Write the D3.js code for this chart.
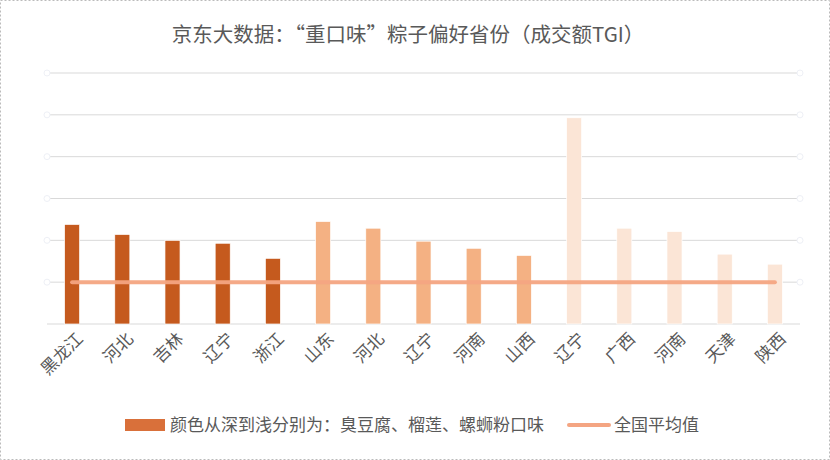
<!DOCTYPE html>
<html><head><meta charset="utf-8">
<script src="https://cdn.jsdelivr.net/npm/d3@7"></script>
<style>body{margin:0;background:#fff;font-family:"Noto Sans CJK SC",sans-serif}</style>
</head><body><svg id="c" width="830" height="460"></svg>
<script>
const categories=["黑龙江","河北","吉林","辽宁","浙江","山东","河北","辽宁","河南","山西","辽宁","广西","河南","天津","陕西"];
const values=[238,214,200,193,157,245,229,198,181,164,493,229,221,167,143];
const groups=[0,0,0,0,0,1,1,1,1,1,2,2,2,2,2];
const average=[100,100,100,100,100,100,100,100,100,100,100,100,100,100,100];
const ticks=[0,100,200,300,400,500,600];
const colors=["#C55A1E","#F4B183","#FBE5D6"];
const svg=d3.select("#c");
svg.append("rect").attr("x",0.5).attr("y",0.5).attr("width",829).attr("height",459).attr("fill","#fff").attr("stroke","#bbb").attr("stroke-dasharray","2,2");
svg.append("text").attr("x",408).attr("y",42).attr("text-anchor","middle").attr("font-size",20.5).attr("fill","#595959").text("京东大数据：“重口味”粽子偏好省份（成交额TGI）");
const x=d3.scaleBand().domain(d3.range(categories.length)).range([47,800]).paddingInner(0.7).paddingOuter(0.35);
const y=d3.scaleLinear().domain([0,600]).range([324,73]);
svg.append("g").selectAll("line").data(ticks).join("line").attr("x1",47).attr("x2",800).attr("y1",d=>y(d)).attr("y2",d=>y(d)).attr("stroke","#d9d9d9").attr("stroke-width",1);
svg.append("g").selectAll("circle").data(ticks.slice(1)).join("circle").attr("cx",47).attr("cy",d=>y(d)).attr("r",3).attr("fill","#fff").attr("stroke","#eef0f6");
svg.append("g").selectAll("circle").data(ticks.slice(1)).join("circle").attr("cx",800).attr("cy",d=>y(d)).attr("r",3).attr("fill","#fff").attr("stroke","#eef0f6");
svg.append("g").selectAll("rect").data(values).join("rect").attr("x",(d,i)=>x(i)).attr("width",x.bandwidth()).attr("y",d=>y(d)).attr("height",d=>y(0)-y(d)).attr("fill",(d,i)=>colors[groups[i]]).attr("stroke","#fff").attr("stroke-width",0.7);
const line=d3.line().x((d,i)=>x(i)+x.bandwidth()/2).y(d=>y(d));
svg.append("path").datum(average).attr("d",line).attr("fill","none").attr("stroke","#F4A582").attr("stroke-width",4).attr("stroke-linecap","round").attr("opacity",0.95);
svg.append("g").selectAll("text").data(categories).join("text").attr("font-size",17).attr("fill","#595959").attr("text-anchor","end")
 .attr("transform",(d,i)=>`translate(${x(i)+x.bandwidth()/2+12},${340}) rotate(-45)`).text(d=>d);
const lg=svg.append("g");
lg.append("rect").attr("x",125).attr("y",419).attr("width",40).attr("height",12).attr("fill","#D9703A");
lg.append("text").attr("x",170).attr("y",431).attr("font-size",17).attr("fill","#595959").text("颜色从深到浅分别为：臭豆腐、榴莲、螺蛳粉口味");
lg.append("line").attr("x1",569).attr("x2",609).attr("y1",425).attr("y2",425).attr("stroke","#F4A582").attr("stroke-width",4).attr("stroke-linecap","round");
lg.append("text").attr("x",614).attr("y",431).attr("font-size",17).attr("fill","#595959").text("全国平均值");
</script></body></html>
